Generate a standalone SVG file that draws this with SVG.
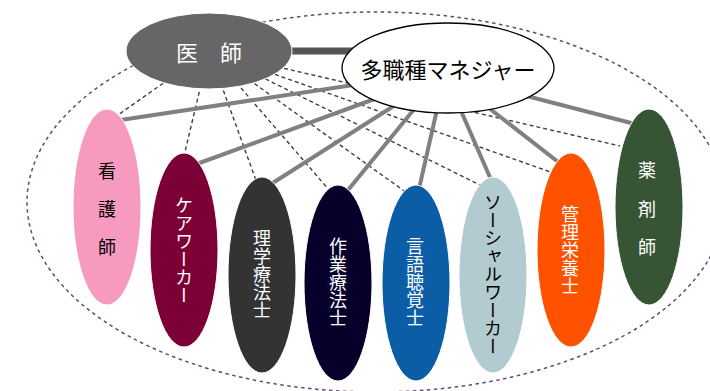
<svg xmlns="http://www.w3.org/2000/svg" width="710" height="391" viewBox="0 0 710 391">
<style>
text{font-family:"Noto Sans CJK JP","Noto Sans",sans-serif;}
.outer{fill:none;stroke:#5f4b7a;stroke-width:1.5;stroke-dasharray:3.5 3.5;}
.dash{stroke:#404040;stroke-width:1.4;stroke-dasharray:4 3;fill:none;}
.solid{stroke:#808080;stroke-width:4;fill:none;}
.node{stroke:#ffffff;stroke-width:1;}
.v{writing-mode:vertical-rl;font-size:18px;text-anchor:middle;}
.w{fill:#ffffff;}
.b{fill:#000000;}
</style>
<ellipse class="outer" cx="376" cy="202" rx="349" ry="190"/>
<g id="connectors">
<line class="dash" x1="209" y1="51" x2="118" y2="115"/>
<line class="dash" x1="209" y1="51" x2="184" y2="156"/>
<line class="dash" x1="209" y1="51" x2="257" y2="183"/>
<line class="dash" x1="209" y1="51" x2="330" y2="191"/>
<line class="dash" x1="209" y1="51" x2="407" y2="193"/>
<line class="dash" x1="209" y1="51" x2="486" y2="188"/>
<line class="dash" x1="209" y1="51" x2="556" y2="174"/>
<line class="dash" x1="209" y1="51" x2="620" y2="146"/>
<line class="solid" x1="360" y1="84" x2="114" y2="121"/>
<line class="solid" x1="380" y1="97" x2="194" y2="165"/>
<line class="solid" x1="400" y1="102" x2="268" y2="186"/>
<line class="solid" x1="420" y1="102" x2="344" y2="195"/>
<line class="solid" x1="438" y1="105" x2="419" y2="189"/>
<line class="solid" x1="458" y1="104" x2="492" y2="182"/>
<line class="solid" x1="480" y1="101" x2="562" y2="165"/>
<line class="solid" x1="515" y1="93" x2="635" y2="124"/>
<line x1="250" y1="51" x2="400" y2="51" stroke="#555555" stroke-width="7"/>
</g>
<g id="kangoshi">
<ellipse class="node" cx="107" cy="207" rx="34" ry="98" fill="#f79ac0"/>
<text class="b" font-size="18" text-anchor="middle" dominant-baseline="central"><tspan x="107" y="170">看</tspan><tspan x="107" y="208">護</tspan><tspan x="107" y="246">師</tspan></text>
</g>
<g id="careworker">
<ellipse class="node" cx="184" cy="250" rx="34" ry="97" fill="#7c0036"/>
<text class="v w" x="184" y="250">ケアワーカー</text>
</g>
<g id="rigaku">
<ellipse class="node" cx="262" cy="275" rx="34" ry="98" fill="#333333"/>
<text class="v w" x="262" y="274">理学療法士</text>
</g>
<g id="sagyo">
<ellipse class="node" cx="338" cy="283" rx="34" ry="98" fill="#07002b"/>
<text class="v w" x="338" y="282">作業療法士</text>
</g>
<g id="gengo">
<ellipse class="node" cx="416" cy="283" rx="34" ry="98" fill="#0b5ea6"/>
<text class="v w" x="415" y="282">言語聴覚士</text>
</g>
<g id="social">
<ellipse class="node" cx="493" cy="275" rx="34" ry="98" fill="#b2cbd0"/>
<text class="v b" x="493" y="274">ソーシャルワーカー</text>
</g>
<g id="eiyo">
<ellipse class="node" cx="571" cy="250" rx="34" ry="97" fill="#ff5200"/>
<text class="v w" x="570" y="250">管理栄養士</text>
</g>
<g id="yakuzaishi">
<ellipse class="node" cx="649" cy="207" rx="34" ry="98" fill="#375535"/>
<text class="w" font-size="18" text-anchor="middle" dominant-baseline="central"><tspan x="647" y="169">薬</tspan><tspan x="647" y="208">剤</tspan><tspan x="647" y="246">師</tspan></text>
</g>
<g id="ishi">
<ellipse cx="209" cy="51" rx="83" ry="38" fill="#666666" stroke="#ffffff" stroke-width="1"/>
<text class="w" x="209" y="51" font-size="22" text-anchor="middle" dominant-baseline="central">医　師</text>
</g>
<g id="manager">
<ellipse cx="448" cy="68" rx="106" ry="45" fill="#ffffff" stroke="#000000" stroke-width="1.3"/>
<text class="b" x="448" y="68" font-size="22" text-anchor="middle" dominant-baseline="central">多職種マネジャー</text>
</g>
</svg>
